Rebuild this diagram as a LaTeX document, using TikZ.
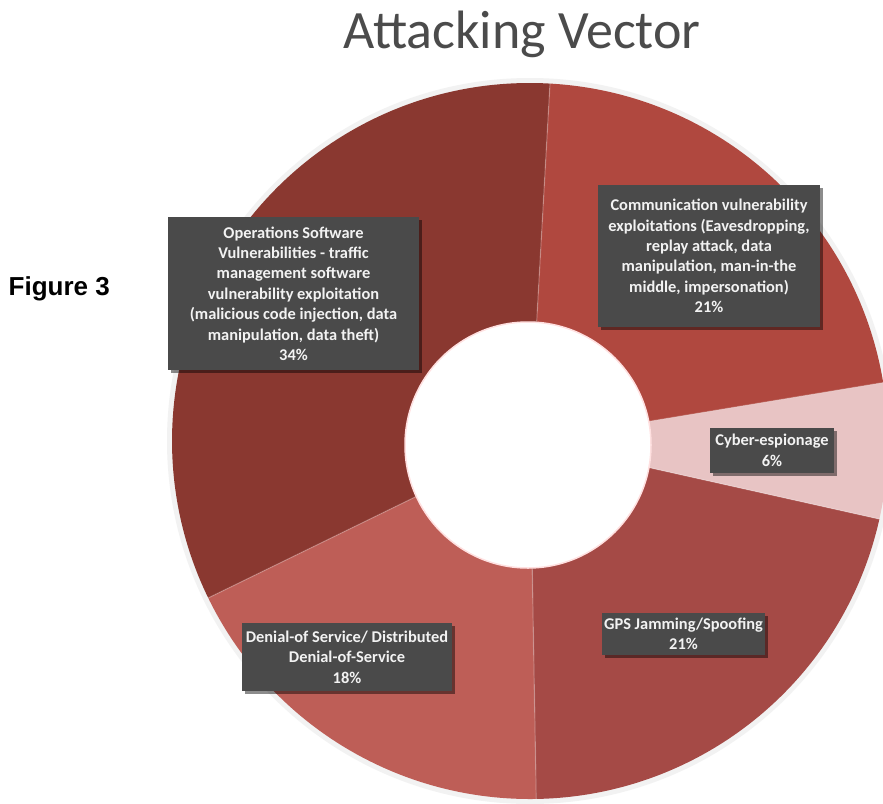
\documentclass[tikz,border=0pt]{standalone}
\usepackage{fontspec}
\setmainfont{Carlito}
\newfontfamily\figfont{Liberation Sans}
\usetikzlibrary{shadows,calc}

\definecolor{opsred}{HTML}{8A3830}
\definecolor{commred}{HTML}{B0483F}
\definecolor{cyberpink}{HTML}{E8C4C4}
\definecolor{gpsred}{HTML}{A54A46}
\definecolor{dosred}{HTML}{BE5E57}
\definecolor{boxgrey}{HTML}{4A4A4A}
\definecolor{titlegrey}{HTML}{4B4B4B}

% one filled sector of the ring: colour, start angle, end angle
\newcommand\donutslice[3]{%
  \fill[#1] (c) -- ++(#2:\R) arc[start angle=#2, end angle=#3, radius=\R] -- cycle;}

\begin{document}
\begin{tikzpicture}[x=1pt, y=1pt,
  lbl/.style={fill=boxgrey, text=white!95!black,
    font=\bfseries\fontsize{16.4}{20.4}\selectfont, align=center, inner sep=0pt,
    drop shadow={shadow xshift=2.5pt, shadow yshift=-2.5pt, opacity=0.45, fill=black}},
  seam/.style={white, opacity=0.22, line width=1.2pt}]

\useasboundingbox (0,0) rectangle (883,-803);
\clip (0,0) rectangle (883,-803);
\fill[white] (0,0) rectangle (883,-803);

\coordinate (c) at (530,-441);
\def\R{358}

% soft halo round the ring
\fill[black!5] (c) circle[radius=363];

% sectors, counter-clockwise from the top
\donutslice{opsred}{86.8}{206}
\donutslice{dosred}{206}{271}
\donutslice{gpsred}{271}{347.4}
\donutslice{cyberpink}{347.4}{369.4}
\donutslice{commred}{9.4}{86.8}

% light seams between sectors
\foreach \a in {86.8,206,271,347.4,9.4}
  \draw[seam] ($(c)+(\a:120)$) -- ($(c)+(\a:\R)$);

% hole in the middle
\fill[white, draw=red!12, line width=1.5pt] (528,-445) circle[radius=123];

% title
\node[font=\fontsize{54}{62}\selectfont, text=titlegrey, anchor=base, inner sep=0pt] (title)
  at (522,-48) {Attacking Vector};

% caption at the left
\node[font=\figfont\bfseries\fontsize{26}{30}\selectfont, anchor=base east, inner sep=0pt] (fig)
  at (110,-295) {Figure 3};

% data labels
\node[lbl, minimum width=251, minimum height=153] (ops) at (293.5,-293.5)
  {Operations Software\\ Vulnerabilities - traffic\\ management software\\
   vulnerability exploitation\\ (malicious code injection, data\\
   manipulation, data theft)\\ 34\%};

\node[lbl, minimum width=222, minimum height=142] (comm) at (709,-256)
  {Communication vulnerability\\ exploitations (Eavesdropping,\\ replay attack, data\\
   manipulation, man-in-the\\ middle, impersonation)\\ 21\%};

\node[lbl, minimum width=124, minimum height=45] (cyber) at (772,-450.5)
  {Cyber-espionage\\ 6\%};

\node[lbl, minimum width=163, minimum height=42] (gps) at (683.5,-634)
  {GPS Jamming/Spoofing\\ 21\%};

\node[lbl, minimum width=210, minimum height=68] (dos) at (347,-657)
  {Denial-of Service/ Distributed\\ Denial-of-Service\\ 18\%};

\end{tikzpicture}
\end{document}
